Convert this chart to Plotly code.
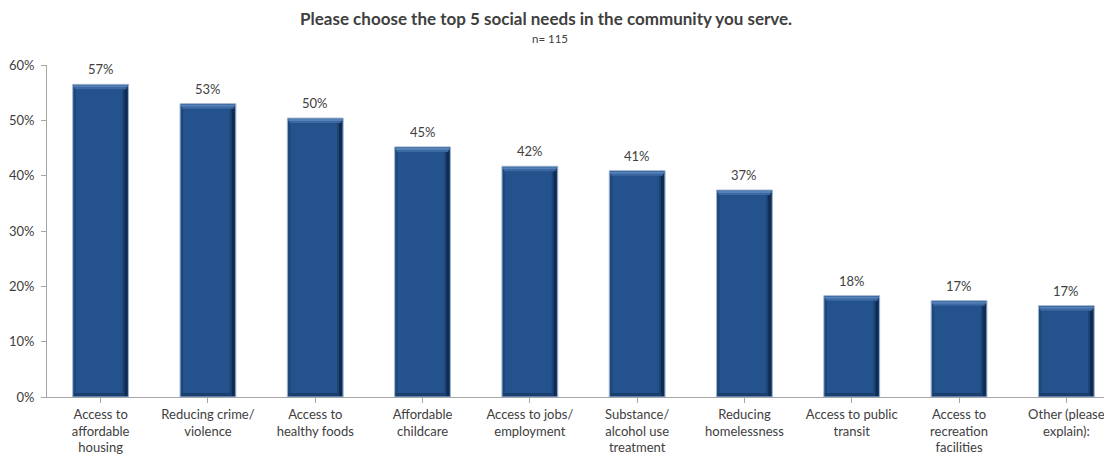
import plotly.graph_objects as go

categories = [
    "Access to<br>affordable<br>housing",
    "Reducing crime/<br>violence",
    "Access to<br>healthy foods",
    "Affordable<br>childcare",
    "Access to jobs/<br>employment",
    "Substance/<br>alcohol use<br>treatment",
    "Reducing<br>homelessness",
    "Access to public<br>transit",
    "Access to<br>recreation<br>facilities",
    "Other (please<br>explain):",
]
values = [0.565, 0.530, 0.504, 0.452, 0.417, 0.409, 0.374, 0.183, 0.174, 0.165]
labels = ["57%", "53%", "50%", "45%", "42%", "41%", "37%", "18%", "17%", "17%"]

MAIN = "#23528C"
TXT = "#404040"
FONT = "Lato"
PX = 0.6 / 332  # one pixel in data units (y)
BW = 0.52       # bar width in category units
CX = BW / 55    # one pixel in category units (approx)

xidx = list(range(len(categories)))
fig = go.Figure()


def strip(ys, bases, width, offset, color):
    fig.add_trace(go.Bar(
        x=xidx, y=ys, base=bases, width=width, offset=offset,
        marker=dict(color=color, line=dict(width=0)),
        hoverinfo="skip", showlegend=False,
    ))


# main bar
fig.add_trace(go.Bar(
    x=xidx, y=values, width=BW,
    marker=dict(color=MAIN, line=dict(color="#9FB4CE", width=1)),
    hoverinfo="skip", showlegend=False,
))
# right dark bevel (gradient)
strip([v - 4 * PX for v in values], [PX] * len(values), 3 * CX, BW / 2 - 6 * CX, "#1B4274")
strip([v - 3 * PX for v in values], [PX] * len(values), 3 * CX, BW / 2 - 4 * CX, "#112B50")
# left subtle bevel
strip([v - 4 * PX for v in values], [PX] * len(values), 2 * CX, -BW / 2 + CX, "#1D4779")
# bottom dark bevel
strip([3 * PX] * len(values), [PX] * len(values), BW - 6 * CX, -BW / 2 + CX, "#1A3F6E")
# top highlight (gradient)
strip([2 * PX] * len(values), [v - 5 * PX for v in values], BW - 4 * CX, -BW / 2 + 2 * CX, "#3C69A2")
strip([2 * PX] * len(values), [v - 3 * PX for v in values], BW - 2 * CX, -BW / 2 + CX, "#5581B8")

for i, (v, t) in enumerate(zip(values, labels)):
    fig.add_annotation(x=i, y=v, text=t, showarrow=False, yanchor="bottom", yshift=5,
                       font=dict(family=FONT, size=13, color=TXT))

L, T, PW, PH = 39, 57, 1073, 332
fig.add_annotation(xref="paper", yref="paper", x=(538 - L) / PW, y=1 + (T - 10) / PH,
                   text="<b>Please choose the top 5 social needs in the community you serve.</b>",
                   showarrow=False, xanchor="center", yanchor="middle",
                   font=dict(family=FONT, size=17, color=TXT))
fig.add_annotation(xref="paper", yref="paper", x=(542 - L) / PW, y=1 + (T - 30) / PH,
                   text="n= 115", showarrow=False, xanchor="center", yanchor="middle",
                   font=dict(family=FONT, size=11.5, color=TXT))

fig.update_layout(
    width=1112, height=462,
    margin=dict(l=L, r=0, t=T, b=462 - T - PH),
    paper_bgcolor="white", plot_bgcolor="white",
    barmode="overlay", showlegend=False,
    font=dict(family=FONT, size=13, color=TXT),
    xaxis=dict(
        tickmode="array", tickvals=xidx, ticktext=categories,
        range=[-0.5, 9.5], showgrid=False, zeroline=False,
        showline=True, linecolor="#A6A6A6", linewidth=1,
        ticks="outside", tickson="boundaries", ticklen=5, tickcolor="#A6A6A6",
        tickangle=0, tickfont=dict(family=FONT, size=13, color=TXT),
    ),
    yaxis=dict(
        range=[0, 0.6], tickvals=[0, 0.1, 0.2, 0.3, 0.4, 0.5, 0.6],
        tickformat=".0%", showgrid=False, zeroline=False,
        showline=True, linecolor="#A6A6A6", linewidth=1,
        ticks="outside", ticklen=5, tickcolor="#A6A6A6",
        ticklabelstandoff=4,
        tickfont=dict(family=FONT, size=13, color=TXT),
    ),
)

fig.write_html("out.html")
